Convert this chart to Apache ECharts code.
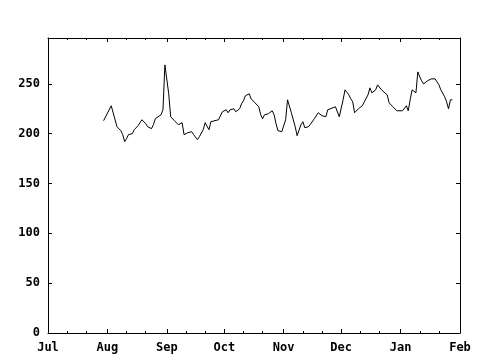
<!DOCTYPE html>
<html>
<head>
<meta charset="utf-8">
<script src="https://cdn.jsdelivr.net/npm/echarts@6/dist/echarts.min.js"></script>
<style>
    html, body { margin: 0; padding: 0; background: #fff; }
    #main { width: 480px; height: 360px; }
</style>
</head>
<body>
<div id="main"></div>
<script>
    // dates of the readings (Jul 2006 .. Jan 2007)
    var dates = [
        '2006-07-30', '2006-08-03', '2006-08-04', '2006-08-06', '2006-08-08', '2006-08-09', '2006-08-10',
        '2006-08-11', '2006-08-12', '2006-08-14', '2006-08-15', '2006-08-17', '2006-08-18', '2006-08-19',
        '2006-08-21', '2006-08-22', '2006-08-24', '2006-08-25', '2006-08-26', '2006-08-27', '2006-08-29',
        '2006-08-30', '2006-08-31', '2006-09-01', '2006-09-02', '2006-09-03', '2006-09-05', '2006-09-07',
        '2006-09-08', '2006-09-09', '2006-09-10', '2006-09-12', '2006-09-14', '2006-09-15', '2006-09-17',
        '2006-09-18', '2006-09-20', '2006-09-21', '2006-09-22', '2006-09-23', '2006-09-24', '2006-09-25',
        '2006-09-28', '2006-09-29', '2006-09-30', '2006-10-01', '2006-10-02', '2006-10-03', '2006-10-04',
        '2006-10-05', '2006-10-06', '2006-10-07', '2006-10-09', '2006-10-10', '2006-10-11', '2006-10-12',
        '2006-10-14', '2006-10-15', '2006-10-17', '2006-10-19', '2006-10-20', '2006-10-21', '2006-10-22',
        '2006-10-24', '2006-10-26', '2006-10-27', '2006-10-28', '2006-10-29', '2006-10-31', '2006-11-01',
        '2006-11-02', '2006-11-03', '2006-11-04', '2006-11-05', '2006-11-07', '2006-11-08', '2006-11-09',
        '2006-11-10', '2006-11-11', '2006-11-12', '2006-11-14', '2006-11-15', '2006-11-17', '2006-11-19',
        '2006-11-21', '2006-11-23', '2006-11-24', '2006-11-25', '2006-11-28', '2006-11-29', '2006-11-30',
        '2006-12-01', '2006-12-02', '2006-12-03', '2006-12-05', '2006-12-06', '2006-12-07', '2006-12-08',
        '2006-12-10', '2006-12-12', '2006-12-13', '2006-12-15', '2006-12-16', '2006-12-17', '2006-12-19',
        '2006-12-20', '2006-12-21', '2006-12-22', '2006-12-23', '2006-12-25', '2006-12-26', '2006-12-28',
        '2006-12-30', '2007-01-02', '2007-01-03', '2007-01-04', '2007-01-05', '2007-01-06', '2007-01-07',
        '2007-01-08', '2007-01-09', '2007-01-10', '2007-01-11', '2007-01-12', '2007-01-13', '2007-01-15',
        '2007-01-17', '2007-01-18', '2007-01-19', '2007-01-21', '2007-01-22', '2007-01-24', '2007-01-25',
        '2007-01-26', '2007-01-27', '2007-01-28'
    ];
    var values = [
        213, 228, 227, 207, 203, 199, 192,
        195, 199, 200, 204, 208, 210, 214,
        210, 207, 205, 209, 215, 216, 219,
        224, 269, 267, 240, 217, 213, 209,
        207, 211, 199, 201, 202, 199, 194,
        197, 204, 211, 209, 204, 212, 213,
        214, 216, 222, 220, 224, 221, 224,
        222, 225, 222, 225, 230, 233, 238,
        240, 235, 231, 227, 219, 215, 219,
        220, 223, 219, 210, 203, 202, 202,
        214, 234, 236, 221, 207, 198, 199,
        209, 212, 206, 207, 209, 215, 221,
        218, 217, 224, 226, 227, 228, 217,
        219, 234, 244, 239, 235, 232, 221,
        225, 228, 229, 239, 246, 241, 244,
        249, 251, 244, 244, 239, 231, 227,
        223, 223, 223, 228, 223, 234, 244,
        243, 241, 262, 257, 253, 250, 253,
        255, 256, 255, 249, 244, 237, 232,
        225, 234, 234
    ];
    var monthNames = ['Jan', 'Feb', 'Mar', 'Apr', 'May', 'Jun', 'Jul', 'Aug', 'Sep', 'Oct', 'Nov', 'Dec'];
    // axis tick positions: month starts and the 11th / 21st in between
    var monthStarts = [
        [2006, 6], [2006, 7], [2006, 8], [2006, 9], [2006, 10], [2006, 11], [2007, 0], [2007, 1]
    ];
    var minorDays = [11, 21];

    function toTime(s) {
        var p = s.split('-')
        return new Date(+p[0], +p[1] - 1, +p[2]).getTime()
    }

    var majorTicks = monthStarts.map(function (m) { return new Date(m[0], m[1], 1).getTime() })
    var minorTicks = []
    monthStarts.slice(0, -1).forEach(function (m) {
        minorDays.forEach(function (d) { minorTicks.push(new Date(m[0], m[1], d).getTime()) })
    })
    var xMin = majorTicks[0]
    var xMax = majorTicks[majorTicks.length - 1]

    var font = {
        fontFamily: 'DejaVu Sans Mono',
        fontWeight: 'bold',
        fontSize: 12,
        color: '#000'
    }

    // x is a plain value axis holding timestamps, so ticks can sit exactly on given days
    function dayAxis(pos, ticks, len, showLine, showLabel) {
        return {
            type: 'value',
            position: pos,
            min: xMin,
            max: xMax,
            splitLine: { show: false },
            axisLine: { show: showLine, onZero: false, lineStyle: { color: '#000', width: 1 } },
            axisTick: { show: true, inside: true, length: len, customValues: ticks, lineStyle: { color: '#000', width: 1 } },
            axisLabel: Object.assign({
                show: showLabel,
                customValues: ticks,
                margin: 9,
                formatter: function (v) { return monthNames[new Date(v).getMonth()] }
            }, font)
        }
    }

    function valAxis(pos, showLabel) {
        return {
            type: 'value',
            position: pos,
            min: 0,
            max: 296,
            interval: 50,
            splitLine: { show: false },
            axisLine: { show: true, lineStyle: { color: '#000', width: 1 } },
            axisTick: { show: true, inside: true, length: 4, lineStyle: { color: '#000', width: 1 } },
            axisLabel: Object.assign({ show: showLabel, margin: 8, showMaxLabel: false }, font)
        }
    }

    var chart = echarts.init(document.getElementById('main'))
    chart.setOption({
        backgroundColor: '#fff',
        animation: false,
        grid: { left: 48, right: 20, top: 38, bottom: 27 },
        xAxis: [
            dayAxis('bottom', majorTicks, 4, true, true),
            dayAxis('bottom', minorTicks, 2, false, false),
            dayAxis('top', majorTicks, 4, true, false),
            dayAxis('top', minorTicks, 2, false, false)
        ],
        yAxis: [
            valAxis('left', true),
            valAxis('right', false)
        ],
        series: [{
            type: 'line',
            xAxisIndex: 0,
            yAxisIndex: 0,
            showSymbol: false,
            lineStyle: { color: '#000', width: 1 },
            data: dates.map(function (d, i) { return [toTime(d), values[i]] })
        }]
    })
</script>
</body>
</html>
